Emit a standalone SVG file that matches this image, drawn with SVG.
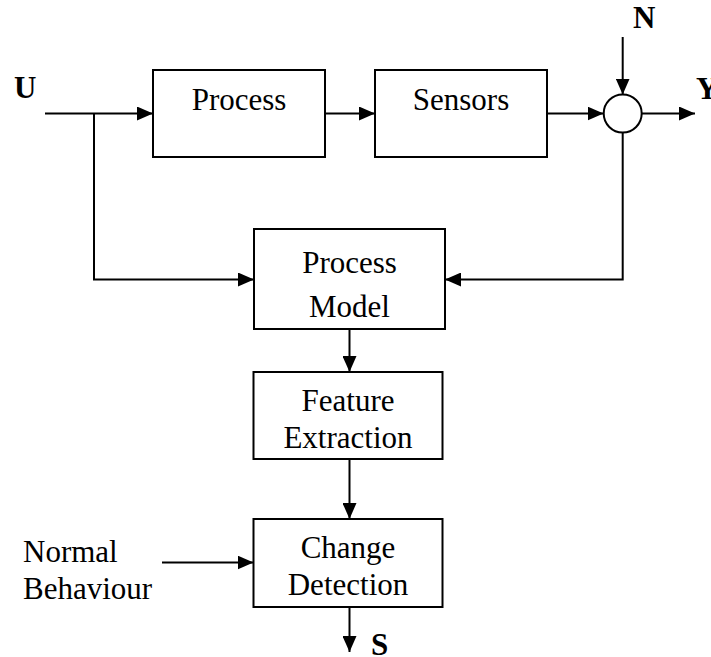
<svg xmlns="http://www.w3.org/2000/svg" width="711" height="657" viewBox="0 0 711 657">
  <style>
    .box { fill: #ffffff; stroke: #000000; stroke-width: 2; }
    .wire { fill: none; stroke: #000000; stroke-width: 2; marker-end: url(#arrow); }
    .plain { fill: none; stroke: #000000; stroke-width: 2; }
    .lbl { font-family: "Liberation Serif", "Times New Roman", serif; font-size: 31px; fill: #000000; }
    .mid { text-anchor: middle; }
    .sig { font-family: "Liberation Serif", "Times New Roman", serif; font-size: 31px; font-weight: bold; fill: #000000; }
  </style>
  <defs>
    <marker id="arrow" markerUnits="userSpaceOnUse" markerWidth="16" markerHeight="14" refX="16" refY="7" orient="auto">
      <path d="M0,0 L16,7 L0,14 Z" fill="#000000"/>
    </marker>
  </defs>

  <rect width="711" height="657" fill="#ffffff"/>

  <!-- connectors -->
  <g id="connectors">
    <path class="wire" d="M45,113.5 H153"/>
    <path class="wire" d="M94,113.5 V279.5 H254"/>
    <path class="wire" d="M325,113.5 H375"/>
    <path class="wire" d="M547,113.5 H603.5"/>
    <path class="wire" d="M622.7,37 V94.5"/>
    <path class="wire" d="M641.7,113.5 H695"/>
    <path class="wire" d="M622.7,132.5 V279.5 H445"/>
    <path class="wire" d="M349.5,329 V372"/>
    <path class="wire" d="M349.5,459 V519"/>
    <path class="wire" d="M162,562.5 H253.5"/>
    <path class="wire" d="M349.5,607 V652"/>
  </g>

  <!-- blocks -->
  <g id="process">
    <rect class="box" x="153" y="70" width="172" height="87"/>
    <text class="lbl mid" x="239" y="110">Process</text>
  </g>
  <g id="sensors">
    <rect class="box" x="375" y="70" width="172" height="87"/>
    <text class="lbl mid" x="461" y="110">Sensors</text>
  </g>
  <g id="sum">
    <circle cx="622.7" cy="113.5" r="19" fill="#ffffff" stroke="#000000" stroke-width="2"/>
  </g>
  <g id="process-model">
    <rect class="box" x="254" y="229" width="191" height="100"/>
    <text class="lbl mid" x="349.5" y="273">Process</text>
    <text class="lbl mid" x="349.5" y="317">Model</text>
  </g>
  <g id="feature-extraction">
    <rect class="box" x="253.5" y="372" width="189" height="87"/>
    <text class="lbl mid" x="348" y="410.5">Feature</text>
    <text class="lbl mid" x="348" y="448">Extraction</text>
  </g>
  <g id="change-detection">
    <rect class="box" x="253.5" y="519" width="189" height="88"/>
    <text class="lbl mid" x="348" y="558">Change</text>
    <text class="lbl mid" x="348" y="595">Detection</text>
  </g>

  <!-- signal labels -->
  <g id="labels">
    <text class="sig" x="14" y="97.5">U</text>
    <text class="sig" x="633" y="28">N</text>
    <text class="sig" x="696" y="99">Y</text>
    <text class="sig" x="371" y="655">S</text>
    <text class="lbl" x="23" y="561.5">Normal</text>
    <text class="lbl" x="23" y="599">Behaviour</text>
  </g>
</svg>
